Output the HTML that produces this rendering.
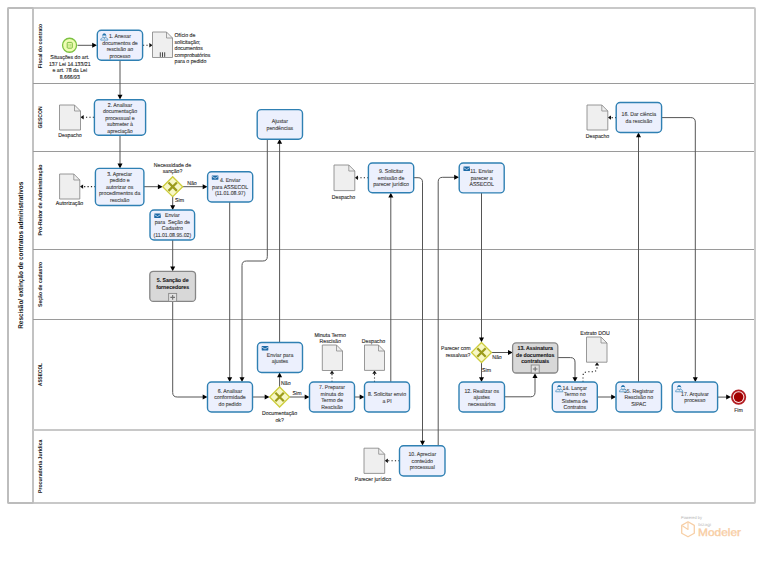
<!DOCTYPE html>
<html><head><meta charset="utf-8"><style>
html,body{margin:0;padding:0;background:#fff;width:768px;height:576px;overflow:hidden}
svg{display:block;font-family:"Liberation Sans",sans-serif;text-rendering:geometricPrecision}
text{font-family:"Liberation Sans",sans-serif}
</style></head><body>
<svg width="768" height="576" viewBox="0 0 768 576" font-family="Liberation Sans, sans-serif"><rect x="8" y="8" width="747" height="495" rx="0.8" fill="#fff" stroke="#c8c8c8" stroke-width="1.9"/>
<rect x="8" y="8" width="25" height="495" rx="0.8" fill="none" stroke="#bcbcbc" stroke-width="1.8"/>
<line x1="33" y1="83.5" x2="754" y2="83.5" stroke="#9a9a9a" stroke-width="1"/>
<line x1="33" y1="151.5" x2="754" y2="151.5" stroke="#9a9a9a" stroke-width="1"/>
<line x1="33" y1="249.5" x2="754" y2="249.5" stroke="#9a9a9a" stroke-width="1"/>
<line x1="33" y1="319.5" x2="754" y2="319.5" stroke="#9a9a9a" stroke-width="1"/>
<line x1="33" y1="430" x2="754" y2="430" stroke="#c8c8c8" stroke-width="1.9"/>
<text transform="translate(22.8,255.3) rotate(-90)" text-anchor="middle" font-weight="bold" font-size="6.9" textLength="147" lengthAdjust="spacingAndGlyphs" fill="#111">Rescisão/ extinção de contratos administrativos</text>
<text transform="translate(41.9,46) rotate(-90)" text-anchor="middle" font-weight="bold" font-size="5.5" textLength="44.3" lengthAdjust="spacingAndGlyphs" fill="#111">Fiscal do contrato</text>
<text transform="translate(41.9,117.4) rotate(-90)" text-anchor="middle" font-weight="bold" font-size="5.5" textLength="22.2" lengthAdjust="spacingAndGlyphs" fill="#111">GESCON</text>
<text transform="translate(41.9,200) rotate(-90)" text-anchor="middle" font-weight="bold" font-size="5.5" textLength="71.1" lengthAdjust="spacingAndGlyphs" fill="#111">Pró-Reitor de Administração</text>
<text transform="translate(41.9,284.4) rotate(-90)" text-anchor="middle" font-weight="bold" font-size="5.5" textLength="45.3" lengthAdjust="spacingAndGlyphs" fill="#111">Seção de cadastro</text>
<text transform="translate(41.9,374.5) rotate(-90)" text-anchor="middle" font-weight="bold" font-size="5.5" textLength="23" lengthAdjust="spacingAndGlyphs" fill="#111">ASSECOL</text>
<text transform="translate(41.9,466.3) rotate(-90)" text-anchor="middle" font-weight="bold" font-size="5.5" textLength="53.5" lengthAdjust="spacingAndGlyphs" fill="#111">Procuradoria Jurídica</text>
<path d="M77.5 45.3L94 45.3" fill="none" stroke="#555555" stroke-width="1.0"/>
<polygon points="97,45.3 92.2,42.8 92.2,47.8" fill="#000"/>
<path d="M143 45.3L149.5 45.3" fill="none" stroke="#222" stroke-width="1.1" stroke-dasharray="1.2 2.2"/>
<polygon points="152.5,45.3 149.3,43.099999999999994 149.3,47.5" fill="#111"/>
<path d="M120 60.5L120 96.5" fill="none" stroke="#555555" stroke-width="1.0"/>
<polygon points="120,99.5 117.5,94.7 122.5,94.7" fill="#000"/>
<path d="M94 117.3L83.5 117.3" fill="none" stroke="#222" stroke-width="1.1" stroke-dasharray="1.2 2.2"/>
<polygon points="80.5,117.3 83.7,115.1 83.7,119.5" fill="#111"/>
<path d="M120 135.2L120 165.4" fill="none" stroke="#555555" stroke-width="1.0"/>
<polygon points="120,168.4 117.5,163.6 122.5,163.6" fill="#000"/>
<path d="M95.5 186.6L82.9 186.6" fill="none" stroke="#222" stroke-width="1.1" stroke-dasharray="1.2 2.2"/>
<polygon points="79.9,186.6 83.10000000000001,184.4 83.10000000000001,188.79999999999998" fill="#111"/>
<path d="M144 186.7L159.7 186.7" fill="none" stroke="#555555" stroke-width="1.0"/>
<polygon points="162.7,186.7 157.89999999999998,184.2 157.89999999999998,189.2" fill="#000"/>
<path d="M182.5 186.7L204.5 186.7" fill="none" stroke="#555555" stroke-width="1.0"/>
<polygon points="207.5,186.7 202.7,184.2 202.7,189.2" fill="#000"/>
<path d="M172.7 196.7L172.7 207" fill="none" stroke="#555555" stroke-width="1.0"/>
<polygon points="172.7,210 170.2,205.2 175.2,205.2" fill="#000"/>
<path d="M172.7 240.1L172.7 268.3" fill="none" stroke="#555555" stroke-width="1.0"/>
<polygon points="172.7,271.3 170.2,266.5 175.2,266.5" fill="#000"/>
<path d="M172.7 301.4L172.70 392.50Q172.7 397 177.20 397.00L204.5 397" fill="none" stroke="#555555" stroke-width="1.0"/>
<polygon points="207.5,397 202.7,394.5 202.7,399.5" fill="#000"/>
<path d="M229.7 202L229.7 379" fill="none" stroke="#555555" stroke-width="1.0"/>
<polygon points="229.7,382 227.2,377.2 232.2,377.2" fill="#000"/>
<path d="M267.3 139L267.30 256.50Q267.3 261 262.80 261.00L246.50 261.00Q242 261 242.00 265.50L242 379" fill="none" stroke="#555555" stroke-width="1.0"/>
<polygon points="242,382 239.5,377.2 244.5,377.2" fill="#000"/>
<path d="M279.6 342.5L279.6 142" fill="none" stroke="#555555" stroke-width="1.0"/>
<polygon points="279.6,139 277.1,143.8 282.1,143.8" fill="#000"/>
<path d="M252.5 397L266.5 397" fill="none" stroke="#555555" stroke-width="1.0"/>
<polygon points="269.5,397 264.7,394.5 264.7,399.5" fill="#000"/>
<path d="M279.6 387L279.6 375.5" fill="none" stroke="#555555" stroke-width="1.0"/>
<polygon points="279.6,372.5 277.1,377.3 282.1,377.3" fill="#000"/>
<path d="M289.5 397L306.5 397" fill="none" stroke="#555555" stroke-width="1.0"/>
<polygon points="309.5,397 304.7,394.5 304.7,399.5" fill="#000"/>
<path d="M332 382L332 373.5" fill="none" stroke="#222" stroke-width="1.1" stroke-dasharray="1.2 2.2"/>
<polygon points="332,370.5 329.8,373.7 334.2,373.7" fill="#111"/>
<path d="M354.5 397L361.5 397" fill="none" stroke="#555555" stroke-width="1.0"/>
<polygon points="364.5,397 359.7,394.5 359.7,399.5" fill="#000"/>
<path d="M374.5 382L374.5 373.5" fill="none" stroke="#222" stroke-width="1.1" stroke-dasharray="1.2 2.2"/>
<polygon points="374.5,370.5 372.3,373.7 376.7,373.7" fill="#111"/>
<path d="M390.8 382L390.8 195.8" fill="none" stroke="#555555" stroke-width="1.0"/>
<polygon points="390.8,192.8 388.3,197.60000000000002 393.3,197.60000000000002" fill="#000"/>
<path d="M368.4 177.7L357.8 177.7" fill="none" stroke="#222" stroke-width="1.1" stroke-dasharray="1.2 2.2"/>
<polygon points="354.8,177.7 358.0,175.5 358.0,179.89999999999998" fill="#111"/>
<path d="M413.7 177.7L418.10 177.70Q422.5 177.7 422.50 182.20L422.5 442.5" fill="none" stroke="#555555" stroke-width="1.0"/>
<polygon points="422.5,445.5 420.0,440.7 425.0,440.7" fill="#000"/>
<path d="M399.5 460.7L387.7 460.7" fill="none" stroke="#222" stroke-width="1.1" stroke-dasharray="1.2 2.2"/>
<polygon points="384.7,460.7 387.9,458.5 387.9,462.9" fill="#111"/>
<path d="M438.2 445.5L438.20 181.80Q438.2 177.3 442.70 177.30L456 177.3" fill="none" stroke="#555555" stroke-width="1.0"/>
<polygon points="459,177.3 454.2,174.8 454.2,179.8" fill="#000"/>
<path d="M481.5 192.9L481.5 339.3" fill="none" stroke="#555555" stroke-width="1.0"/>
<polygon points="481.5,342.3 479.0,337.5 484.0,337.5" fill="#000"/>
<path d="M491.5 352.5L509.79999999999995 352.5" fill="none" stroke="#555555" stroke-width="1.0"/>
<polygon points="512.8,352.5 507.99999999999994,350.0 507.99999999999994,355.0" fill="#000"/>
<path d="M481.5 362.5L481.5 379" fill="none" stroke="#555555" stroke-width="1.0"/>
<polygon points="481.5,382 479.0,377.2 484.0,377.2" fill="#000"/>
<path d="M504.5 396.8L530.50 396.80Q535 396.8 535.00 392.30L535 376.2" fill="none" stroke="#555555" stroke-width="1.0"/>
<polygon points="535,373.2 532.5,378.0 537.5,378.0" fill="#000"/>
<path d="M557.8 357.6L570.50 357.60Q575 357.6 575.00 362.10L575 379" fill="none" stroke="#555555" stroke-width="1.0"/>
<polygon points="575,382 572.5,377.2 577.5,377.2" fill="#000"/>
<path d="M583 382L583.00 376.30Q583 371.8 587.50 371.80L592.50 371.80Q597 371.8 597.00 367.30L597 365.2" fill="none" stroke="#222" stroke-width="1.1" stroke-dasharray="1.2 2.2"/>
<polygon points="597,362.2 594.8,365.4 599.2,365.4" fill="#111"/>
<path d="M597.3 397L613 397" fill="none" stroke="#555555" stroke-width="1.0"/>
<polygon points="616,397 611.2,394.5 611.2,399.5" fill="#000"/>
<path d="M638.5 382L638.5 135.5" fill="none" stroke="#555555" stroke-width="1.0"/>
<polygon points="638.5,132.5 636.0,137.3 641.0,137.3" fill="#000"/>
<path d="M616.2 117.6L610.8 117.6" fill="none" stroke="#222" stroke-width="1.1" stroke-dasharray="1.2 2.2"/>
<polygon points="607.8,117.6 611.0,115.39999999999999 611.0,119.8" fill="#111"/>
<path d="M661.6 117.6L690.80 117.60Q695.3 117.6 695.30 122.10L695.3 379" fill="none" stroke="#555555" stroke-width="1.0"/>
<polygon points="695.3,382 692.8,377.2 697.8,377.2" fill="#000"/>
<path d="M717.6 397.1L728 397.1" fill="none" stroke="#555555" stroke-width="1.0"/>
<polygon points="731,397.1 726.2,394.6 726.2,399.6" fill="#000"/>
<circle cx="69.55" cy="45.25" r="7" fill="#effcb4" stroke="#7cc242" stroke-width="1.3"/>
<rect x="67.2" y="42.4" width="5.1" height="5.8" rx="0.8" fill="#e8f8a8" stroke="#79bc40" stroke-width="0.95"/>
<path d="M69 44V46.6M70.6 44V46.6" stroke="#9ccf6a" stroke-width="0.6"/>
<text x="69.8" y="59.15" text-anchor="middle" fill="#1e1e1e" stroke="#1e1e1e" stroke-width="0.1" font-size="5.62" textLength="39.02" lengthAdjust="spacingAndGlyphs">Situações do art.</text>
<text x="69.8" y="65.65" text-anchor="middle" fill="#1e1e1e" stroke="#1e1e1e" stroke-width="0.1" font-size="5.62" textLength="41.64" lengthAdjust="spacingAndGlyphs">137 Lei 14.133/21</text>
<text x="69.8" y="72.15" text-anchor="middle" fill="#1e1e1e" stroke="#1e1e1e" stroke-width="0.1" font-size="5.62" textLength="34.69" lengthAdjust="spacingAndGlyphs">e art. 78 da Lei</text>
<text x="69.8" y="78.65" text-anchor="middle" fill="#1e1e1e" stroke="#1e1e1e" stroke-width="0.1" font-size="5.62" textLength="20.24" lengthAdjust="spacingAndGlyphs">8.666/93</text>
<rect x="97.3" y="30.3" width="45.3" height="29.999999999999996" rx="4" fill="#ecf0fd" stroke="#2f80b3" stroke-width="1.4"/>
<text x="119.94999999999999" y="38.15" text-anchor="middle" fill="#3c3c3c" stroke="#3c3c3c" stroke-width="0.1" font-size="5.62" textLength="21.97" lengthAdjust="spacingAndGlyphs">1. Anexar</text>
<text x="119.94999999999999" y="44.65" text-anchor="middle" fill="#3c3c3c" stroke="#3c3c3c" stroke-width="0.1" font-size="5.62" textLength="35.56" lengthAdjust="spacingAndGlyphs">documentos de</text>
<text x="119.94999999999999" y="51.15" text-anchor="middle" fill="#3c3c3c" stroke="#3c3c3c" stroke-width="0.1" font-size="5.62" textLength="26.59" lengthAdjust="spacingAndGlyphs">rescisão ao</text>
<text x="119.94999999999999" y="57.65" text-anchor="middle" fill="#3c3c3c" stroke="#3c3c3c" stroke-width="0.1" font-size="5.62" textLength="21.10" lengthAdjust="spacingAndGlyphs">processo</text>
<g transform="translate(100.3,33.2)"><path d="M0.4 6.9C0.4 5.1 1.6 4.3 4 4.3S7.6 5.1 7.6 6.9Z" fill="#e2ebf7" stroke="#4b8fbf" stroke-width="0.75"/><circle cx="4" cy="2.6" r="1.75" fill="#f2f6fc" stroke="#5d9bc7" stroke-width="0.6"/><path d="M2.2 2.2C2.2 0.8 3 0.3 4 0.3S5.8 0.8 5.8 2.2Z" fill="#2474ad"/><path d="M3.4 4.5L4 6.2L4.6 4.5" fill="#4a7fa6"/></g>
<path d="M152.5 32H166.5L172.5 38V57.5H152.5Z" fill="#efefef" stroke="#8c8c8c" stroke-width="0.9"/>
<path d="M166.5 32V38H172.5" fill="none" stroke="#8c8c8c" stroke-width="0.8"/>
<path d="M160.3 52.3V56.9M162.5 52.3V56.9M164.7 52.3V56.9" stroke="#444" stroke-width="1"/>
<text x="174.5" y="37.15" text-anchor="start" fill="#1e1e1e" stroke="#1e1e1e" stroke-width="0.1" font-size="5.62" textLength="20.81" lengthAdjust="spacingAndGlyphs">Ofício de</text>
<text x="174.5" y="43.65" text-anchor="start" fill="#1e1e1e" stroke="#1e1e1e" stroke-width="0.1" font-size="5.62" textLength="25.72" lengthAdjust="spacingAndGlyphs">solicitação;</text>
<text x="174.5" y="50.15" text-anchor="start" fill="#1e1e1e" stroke="#1e1e1e" stroke-width="0.1" font-size="5.62" textLength="28.33" lengthAdjust="spacingAndGlyphs">documentos</text>
<text x="174.5" y="56.65" text-anchor="start" fill="#1e1e1e" stroke="#1e1e1e" stroke-width="0.1" font-size="5.62" textLength="35.84" lengthAdjust="spacingAndGlyphs">comprobatórios</text>
<text x="174.5" y="63.15" text-anchor="start" fill="#1e1e1e" stroke="#1e1e1e" stroke-width="0.1" font-size="5.62" textLength="31.81" lengthAdjust="spacingAndGlyphs">para o pedido</text>
<rect x="94.4" y="99.7" width="51.19999999999999" height="35.499999999999986" rx="4" fill="#ecf0fd" stroke="#2f80b3" stroke-width="1.4"/>
<text x="120.0" y="106.65" text-anchor="middle" fill="#3c3c3c" stroke="#3c3c3c" stroke-width="0.1" font-size="5.62" textLength="24.28" lengthAdjust="spacingAndGlyphs">2. Analisar</text>
<text x="120.0" y="113.15" text-anchor="middle" fill="#3c3c3c" stroke="#3c3c3c" stroke-width="0.1" font-size="5.62" textLength="34.11" lengthAdjust="spacingAndGlyphs">documentação</text>
<text x="120.0" y="119.65" text-anchor="middle" fill="#3c3c3c" stroke="#3c3c3c" stroke-width="0.1" font-size="5.62" textLength="29.48" lengthAdjust="spacingAndGlyphs">processual e</text>
<text x="120.0" y="126.15" text-anchor="middle" fill="#3c3c3c" stroke="#3c3c3c" stroke-width="0.1" font-size="5.62" textLength="26.01" lengthAdjust="spacingAndGlyphs">submeter à</text>
<text x="120.0" y="132.65" text-anchor="middle" fill="#3c3c3c" stroke="#3c3c3c" stroke-width="0.1" font-size="5.62" textLength="25.44" lengthAdjust="spacingAndGlyphs">apreciação</text>
<path d="M59.5 105H74.5L80.5 111V130H59.5Z" fill="#efefef" stroke="#8c8c8c" stroke-width="0.9"/>
<path d="M74.5 105V111H80.5" fill="none" stroke="#8c8c8c" stroke-width="0.8"/>
<text x="70" y="136.5" text-anchor="middle" fill="#1e1e1e" stroke="#1e1e1e" stroke-width="0.1" font-size="5.62" textLength="23.42" lengthAdjust="spacingAndGlyphs">Despacho</text>
<rect x="95.4" y="168.4" width="48.5" height="37.099999999999994" rx="4" fill="#ecf0fd" stroke="#2f80b3" stroke-width="1.4"/>
<text x="119.65" y="175.65" text-anchor="middle" fill="#3c3c3c" stroke="#3c3c3c" stroke-width="0.1" font-size="5.62" textLength="24.86" lengthAdjust="spacingAndGlyphs">3. Apreciar</text>
<text x="119.65" y="182.15" text-anchor="middle" fill="#3c3c3c" stroke="#3c3c3c" stroke-width="0.1" font-size="5.62" textLength="19.95" lengthAdjust="spacingAndGlyphs">pedido e</text>
<text x="119.65" y="188.65" text-anchor="middle" fill="#3c3c3c" stroke="#3c3c3c" stroke-width="0.1" font-size="5.62" textLength="27.17" lengthAdjust="spacingAndGlyphs">autorizar os</text>
<text x="119.65" y="195.15" text-anchor="middle" fill="#3c3c3c" stroke="#3c3c3c" stroke-width="0.1" font-size="5.62" textLength="41.34" lengthAdjust="spacingAndGlyphs">procedimentos da</text>
<text x="119.65" y="201.65" text-anchor="middle" fill="#3c3c3c" stroke="#3c3c3c" stroke-width="0.1" font-size="5.62" textLength="19.36" lengthAdjust="spacingAndGlyphs">rescisão</text>
<path d="M59.6 174H73.8L79.8 180V199H59.6Z" fill="#efefef" stroke="#8c8c8c" stroke-width="0.9"/>
<path d="M73.8 174V180H79.8" fill="none" stroke="#8c8c8c" stroke-width="0.8"/>
<text x="69.5" y="204.7" text-anchor="middle" fill="#1e1e1e" stroke="#1e1e1e" stroke-width="0.1" font-size="5.62" textLength="27.46" lengthAdjust="spacingAndGlyphs">Autorização</text>
<path d="M172.7 176.7L182.7 186.7L172.7 196.7L162.7 186.7Z" fill="#f7f7c6" stroke="#cdcd3c" stroke-width="1.3"/>
<path d="M168.5 182.5L176.89999999999998 190.89999999999998M176.89999999999998 182.5L168.5 190.89999999999998" stroke="#9b9b1c" stroke-width="2.3"/>
<text x="172.5" y="166.85" text-anchor="middle" fill="#1e1e1e" stroke="#1e1e1e" stroke-width="0.1" font-size="5.62" textLength="37.29" lengthAdjust="spacingAndGlyphs">Necessidade de</text>
<text x="172.5" y="173.35" text-anchor="middle" fill="#1e1e1e" stroke="#1e1e1e" stroke-width="0.1" font-size="5.62" textLength="19.66" lengthAdjust="spacingAndGlyphs">sanção?</text>
<text x="192" y="185" text-anchor="middle" fill="#1e1e1e" stroke="#1e1e1e" stroke-width="0.1" font-size="5.62" textLength="9.54" lengthAdjust="spacingAndGlyphs">Não</text>
<text x="179.5" y="201.5" text-anchor="middle" fill="#1e1e1e" stroke="#1e1e1e" stroke-width="0.1" font-size="5.62" textLength="8.96" lengthAdjust="spacingAndGlyphs">Sim</text>
<rect x="207.6" y="171.8" width="45.099999999999994" height="30.19999999999999" rx="4" fill="#ecf0fd" stroke="#2f80b3" stroke-width="1.4"/>
<text x="230.14999999999998" y="182.15" text-anchor="middle" fill="#3c3c3c" stroke="#3c3c3c" stroke-width="0.1" font-size="5.62" textLength="20.52" lengthAdjust="spacingAndGlyphs">4. Enviar</text>
<text x="230.14999999999998" y="188.65" text-anchor="middle" fill="#3c3c3c" stroke="#3c3c3c" stroke-width="0.1" font-size="5.62" textLength="36.13" lengthAdjust="spacingAndGlyphs">para ASSECOL</text>
<text x="230.14999999999998" y="195.15" text-anchor="middle" fill="#3c3c3c" stroke="#3c3c3c" stroke-width="0.1" font-size="5.62" textLength="30.55" lengthAdjust="spacingAndGlyphs">(11.01.08.97)</text>
<g transform="translate(211.79999999999998,175.4)"><rect x="0" y="0" width="6.6" height="4.3" rx="0.4" fill="#1d6aa6"/><path d="M0.2 1.0L3.3 2.9L6.4 1.0" stroke="#e6eefa" stroke-width="0.7" fill="none"/></g>
<rect x="150" y="210" width="44.599999999999994" height="30" rx="4" fill="#ecf0fd" stroke="#2f80b3" stroke-width="1.4"/>
<text x="172.3" y="217.15" text-anchor="middle" fill="#3c3c3c" stroke="#3c3c3c" stroke-width="0.1" font-size="5.62" textLength="14.74" lengthAdjust="spacingAndGlyphs">Enviar</text>
<text x="172.3" y="223.65" text-anchor="middle" fill="#3c3c3c" stroke="#3c3c3c" stroke-width="0.1" font-size="5.62" textLength="35.27" lengthAdjust="spacingAndGlyphs">para  Seção de</text>
<text x="172.3" y="230.15" text-anchor="middle" fill="#3c3c3c" stroke="#3c3c3c" stroke-width="0.1" font-size="5.62" textLength="21.10" lengthAdjust="spacingAndGlyphs">Cadastro</text>
<text x="172.3" y="236.65" text-anchor="middle" fill="#3c3c3c" stroke="#3c3c3c" stroke-width="0.1" font-size="5.62" textLength="37.78" lengthAdjust="spacingAndGlyphs">(11.01.08.95.02)</text>
<g transform="translate(154.2,213.6)"><rect x="0" y="0" width="6.6" height="4.3" rx="0.4" fill="#1d6aa6"/><path d="M0.2 1.0L3.3 2.9L6.4 1.0" stroke="#e6eefa" stroke-width="0.7" fill="none"/></g>
<rect x="149.8" y="271.3" width="45.69999999999999" height="30.099999999999966" rx="3.5" fill="#d8d8d8" stroke="#868686" stroke-width="1.3"/>
<text x="172.65" y="282.45" text-anchor="middle" font-weight="bold" fill="#1a1a1a" stroke="#1a1a1a" stroke-width="0.1" font-size="5.62" textLength="31.79" lengthAdjust="spacingAndGlyphs">5. Sanção de</text>
<text x="172.65" y="288.95" text-anchor="middle" font-weight="bold" fill="#1a1a1a" stroke="#1a1a1a" stroke-width="0.1" font-size="5.62" textLength="32.95" lengthAdjust="spacingAndGlyphs">fornecedores</text>
<rect x="168.65" y="293.4" width="8" height="8" fill="#e2e2e2" stroke="#888" stroke-width="0.9"/>
<path d="M172.65 295.09999999999997V299.7M170.35 297.4H174.95000000000002" stroke="#707070" stroke-width="1.1"/>
<rect x="257.2" y="109.6" width="45.30000000000001" height="29.700000000000017" rx="4" fill="#ecf0fd" stroke="#2f80b3" stroke-width="1.4"/>
<text x="279.85" y="123.15" text-anchor="middle" fill="#3c3c3c" stroke="#3c3c3c" stroke-width="0.1" font-size="5.62" textLength="16.18" lengthAdjust="spacingAndGlyphs">Ajustar</text>
<text x="279.85" y="129.65" text-anchor="middle" fill="#3c3c3c" stroke="#3c3c3c" stroke-width="0.1" font-size="5.62" textLength="26.60" lengthAdjust="spacingAndGlyphs">pendências</text>
<rect x="207.5" y="382" width="45.0" height="30" rx="4" fill="#ecf0fd" stroke="#2f80b3" stroke-width="1.4"/>
<text x="230.0" y="392.65" text-anchor="middle" fill="#3c3c3c" stroke="#3c3c3c" stroke-width="0.1" font-size="5.62" textLength="24.28" lengthAdjust="spacingAndGlyphs">6. Analisar</text>
<text x="230.0" y="399.15" text-anchor="middle" fill="#3c3c3c" stroke="#3c3c3c" stroke-width="0.1" font-size="5.62" textLength="31.51" lengthAdjust="spacingAndGlyphs">conformidade</text>
<text x="230.0" y="405.65" text-anchor="middle" fill="#3c3c3c" stroke="#3c3c3c" stroke-width="0.1" font-size="5.62" textLength="22.84" lengthAdjust="spacingAndGlyphs">do pedido</text>
<path d="M279.6 387L289.6 397L279.6 407L269.6 397Z" fill="#f7f7c6" stroke="#cdcd3c" stroke-width="1.3"/>
<path d="M275.40000000000003 392.8L283.8 401.2M283.8 392.8L275.40000000000003 401.2" stroke="#9b9b1c" stroke-width="2.3"/>
<text x="279.6" y="415.15" text-anchor="middle" fill="#1e1e1e" stroke="#1e1e1e" stroke-width="0.1" font-size="5.62" textLength="34.98" lengthAdjust="spacingAndGlyphs">Documentação</text>
<text x="279.6" y="421.65" text-anchor="middle" fill="#1e1e1e" stroke="#1e1e1e" stroke-width="0.1" font-size="5.62" textLength="8.38" lengthAdjust="spacingAndGlyphs">ok?</text>
<text x="285.8" y="384.5" text-anchor="middle" fill="#1e1e1e" stroke="#1e1e1e" stroke-width="0.1" font-size="5.62" textLength="9.54" lengthAdjust="spacingAndGlyphs">Não</text>
<text x="297" y="395.3" text-anchor="middle" fill="#1e1e1e" stroke="#1e1e1e" stroke-width="0.1" font-size="5.62" textLength="8.96" lengthAdjust="spacingAndGlyphs">Sim</text>
<rect x="257.5" y="342.5" width="45.0" height="30.0" rx="4" fill="#ecf0fd" stroke="#2f80b3" stroke-width="1.4"/>
<text x="280.0" y="356.65" text-anchor="middle" fill="#3c3c3c" stroke="#3c3c3c" stroke-width="0.1" font-size="5.62" textLength="26.59" lengthAdjust="spacingAndGlyphs">Enviar para</text>
<text x="280.0" y="363.15" text-anchor="middle" fill="#3c3c3c" stroke="#3c3c3c" stroke-width="0.1" font-size="5.62" textLength="16.48" lengthAdjust="spacingAndGlyphs">ajustes</text>
<g transform="translate(261.7,346.1)"><rect x="0" y="0" width="6.6" height="4.3" rx="0.4" fill="#1d6aa6"/><path d="M0.2 1.0L3.3 2.9L6.4 1.0" stroke="#e6eefa" stroke-width="0.7" fill="none"/></g>
<rect x="309.5" y="382" width="45.0" height="30" rx="4" fill="#ecf0fd" stroke="#2f80b3" stroke-width="1.4"/>
<text x="332.0" y="389.15" text-anchor="middle" fill="#3c3c3c" stroke="#3c3c3c" stroke-width="0.1" font-size="5.62" textLength="26.01" lengthAdjust="spacingAndGlyphs">7. Preparar</text>
<text x="332.0" y="395.65" text-anchor="middle" fill="#3c3c3c" stroke="#3c3c3c" stroke-width="0.1" font-size="5.62" textLength="22.84" lengthAdjust="spacingAndGlyphs">minuta do</text>
<text x="332.0" y="402.15" text-anchor="middle" fill="#3c3c3c" stroke="#3c3c3c" stroke-width="0.1" font-size="5.62" textLength="21.68" lengthAdjust="spacingAndGlyphs">Termo de</text>
<text x="332.0" y="408.65" text-anchor="middle" fill="#3c3c3c" stroke="#3c3c3c" stroke-width="0.1" font-size="5.62" textLength="21.39" lengthAdjust="spacingAndGlyphs">Rescisão</text>
<path d="M322.3 345H336.5L342.5 351V370.5H322.3Z" fill="#efefef" stroke="#8c8c8c" stroke-width="0.9"/>
<path d="M336.5 345V351H342.5" fill="none" stroke="#8c8c8c" stroke-width="0.8"/>
<text x="330.2" y="336.65" text-anchor="middle" fill="#1e1e1e" stroke="#1e1e1e" stroke-width="0.1" font-size="5.62" textLength="31.41" lengthAdjust="spacingAndGlyphs">Minuta Termo</text>
<text x="330.2" y="343.15" text-anchor="middle" fill="#1e1e1e" stroke="#1e1e1e" stroke-width="0.1" font-size="5.62" textLength="21.39" lengthAdjust="spacingAndGlyphs">Rescisão</text>
<rect x="364.5" y="382" width="45.0" height="30" rx="4" fill="#ecf0fd" stroke="#2f80b3" stroke-width="1.4"/>
<text x="387.0" y="396.15" text-anchor="middle" fill="#3c3c3c" stroke="#3c3c3c" stroke-width="0.1" font-size="5.62" textLength="38.15" lengthAdjust="spacingAndGlyphs">8. Solicitar envio</text>
<text x="387.0" y="402.65" text-anchor="middle" fill="#3c3c3c" stroke="#3c3c3c" stroke-width="0.1" font-size="5.62" textLength="9.25" lengthAdjust="spacingAndGlyphs">a PI</text>
<path d="M364.5 345H378.5L384.5 351V370.4H364.5Z" fill="#efefef" stroke="#8c8c8c" stroke-width="0.9"/>
<path d="M378.5 345V351H384.5" fill="none" stroke="#8c8c8c" stroke-width="0.8"/>
<text x="373.5" y="343" text-anchor="middle" fill="#1e1e1e" stroke="#1e1e1e" stroke-width="0.1" font-size="5.62" textLength="23.42" lengthAdjust="spacingAndGlyphs">Despacho</text>
<rect x="368.4" y="163" width="45.30000000000001" height="29.80000000000001" rx="4" fill="#ecf0fd" stroke="#2f80b3" stroke-width="1.4"/>
<text x="391.04999999999995" y="173.15" text-anchor="middle" fill="#3c3c3c" stroke="#3c3c3c" stroke-width="0.1" font-size="5.62" textLength="24.28" lengthAdjust="spacingAndGlyphs">9. Solicitar</text>
<text x="391.04999999999995" y="179.65" text-anchor="middle" fill="#3c3c3c" stroke="#3c3c3c" stroke-width="0.1" font-size="5.62" textLength="26.59" lengthAdjust="spacingAndGlyphs">emissão de</text>
<text x="391.04999999999995" y="186.15" text-anchor="middle" fill="#3c3c3c" stroke="#3c3c3c" stroke-width="0.1" font-size="5.62" textLength="35.84" lengthAdjust="spacingAndGlyphs">parecer jurídico</text>
<path d="M334 165H348.8L354.8 171V190.6H334Z" fill="#efefef" stroke="#8c8c8c" stroke-width="0.9"/>
<path d="M348.8 165V171H354.8" fill="none" stroke="#8c8c8c" stroke-width="0.8"/>
<text x="343.5" y="199.3" text-anchor="middle" fill="#1e1e1e" stroke="#1e1e1e" stroke-width="0.1" font-size="5.62" textLength="23.42" lengthAdjust="spacingAndGlyphs">Despacho</text>
<rect x="399.5" y="445.7" width="45.5" height="30.30000000000001" rx="4" fill="#ecf0fd" stroke="#2f80b3" stroke-width="1.4"/>
<text x="422.25" y="456.15" text-anchor="middle" fill="#3c3c3c" stroke="#3c3c3c" stroke-width="0.1" font-size="5.62" textLength="27.75" lengthAdjust="spacingAndGlyphs">10. Apreciar</text>
<text x="422.25" y="462.65" text-anchor="middle" fill="#3c3c3c" stroke="#3c3c3c" stroke-width="0.1" font-size="5.62" textLength="21.40" lengthAdjust="spacingAndGlyphs">conteúdo</text>
<text x="422.25" y="469.15" text-anchor="middle" fill="#3c3c3c" stroke="#3c3c3c" stroke-width="0.1" font-size="5.62" textLength="25.15" lengthAdjust="spacingAndGlyphs">processual</text>
<path d="M364 448.2H378.7L384.7 454.2V473.4H364Z" fill="#efefef" stroke="#8c8c8c" stroke-width="0.9"/>
<path d="M378.7 448.2V454.2H384.7" fill="none" stroke="#8c8c8c" stroke-width="0.8"/>
<text x="373" y="481" text-anchor="middle" fill="#1e1e1e" stroke="#1e1e1e" stroke-width="0.1" font-size="5.62" textLength="36.42" lengthAdjust="spacingAndGlyphs">Parecer jurídico</text>
<rect x="459.2" y="163" width="45.0" height="29.900000000000006" rx="4" fill="#ecf0fd" stroke="#2f80b3" stroke-width="1.4"/>
<text x="481.7" y="173.15" text-anchor="middle" fill="#3c3c3c" stroke="#3c3c3c" stroke-width="0.1" font-size="5.62" textLength="23.03" lengthAdjust="spacingAndGlyphs">11. Enviar</text>
<text x="481.7" y="179.65" text-anchor="middle" fill="#3c3c3c" stroke="#3c3c3c" stroke-width="0.1" font-size="5.62" textLength="21.97" lengthAdjust="spacingAndGlyphs">parecer a</text>
<text x="481.7" y="186.15" text-anchor="middle" fill="#3c3c3c" stroke="#3c3c3c" stroke-width="0.1" font-size="5.62" textLength="24.57" lengthAdjust="spacingAndGlyphs">ASSECOL</text>
<g transform="translate(463.4,166.6)"><rect x="0" y="0" width="6.6" height="4.3" rx="0.4" fill="#1d6aa6"/><path d="M0.2 1.0L3.3 2.9L6.4 1.0" stroke="#e6eefa" stroke-width="0.7" fill="none"/></g>
<path d="M481.5 342.5L491.5 352.5L481.5 362.5L471.5 352.5Z" fill="#f7f7c6" stroke="#cdcd3c" stroke-width="1.3"/>
<path d="M477.3 348.3L485.7 356.7M485.7 348.3L477.3 356.7" stroke="#9b9b1c" stroke-width="2.3"/>
<text x="470.5" y="350.15" text-anchor="end" fill="#1e1e1e" stroke="#1e1e1e" stroke-width="0.1" font-size="5.62" textLength="29.48" lengthAdjust="spacingAndGlyphs">Parecer com</text>
<text x="470.5" y="356.65" text-anchor="end" fill="#1e1e1e" stroke="#1e1e1e" stroke-width="0.1" font-size="5.62" textLength="24.86" lengthAdjust="spacingAndGlyphs">ressalvas?</text>
<text x="497" y="359" text-anchor="middle" fill="#1e1e1e" stroke="#1e1e1e" stroke-width="0.1" font-size="5.62" textLength="9.54" lengthAdjust="spacingAndGlyphs">Não</text>
<text x="486.5" y="372" text-anchor="middle" fill="#1e1e1e" stroke="#1e1e1e" stroke-width="0.1" font-size="5.62" textLength="8.96" lengthAdjust="spacingAndGlyphs">Sim</text>
<rect x="512.6" y="342.9" width="45.19999999999993" height="30.100000000000023" rx="3.5" fill="#d8d8d8" stroke="#868686" stroke-width="1.3"/>
<text x="535.2" y="350.15" text-anchor="middle" font-weight="bold" fill="#1a1a1a" stroke="#1a1a1a" stroke-width="0.1" font-size="5.62" textLength="35.36" lengthAdjust="spacingAndGlyphs">13. Assinatura</text>
<text x="535.2" y="356.65" text-anchor="middle" font-weight="bold" fill="#1a1a1a" stroke="#1a1a1a" stroke-width="0.1" font-size="5.62" textLength="38.43" lengthAdjust="spacingAndGlyphs">de documentos</text>
<text x="535.2" y="363.15" text-anchor="middle" font-weight="bold" fill="#1a1a1a" stroke="#1a1a1a" stroke-width="0.1" font-size="5.62" textLength="28.03" lengthAdjust="spacingAndGlyphs">contratuais</text>
<rect x="531.2" y="365" width="8" height="8" fill="#e2e2e2" stroke="#888" stroke-width="0.9"/>
<path d="M535.2 366.7V371.3M532.9000000000001 369H537.5" stroke="#707070" stroke-width="1.1"/>
<rect x="459" y="382" width="45.5" height="30" rx="4" fill="#ecf0fd" stroke="#2f80b3" stroke-width="1.4"/>
<text x="481.75" y="392.65" text-anchor="middle" fill="#3c3c3c" stroke="#3c3c3c" stroke-width="0.1" font-size="5.62" textLength="34.68" lengthAdjust="spacingAndGlyphs">12. Realizar os</text>
<text x="481.75" y="399.15" text-anchor="middle" fill="#3c3c3c" stroke="#3c3c3c" stroke-width="0.1" font-size="5.62" textLength="16.48" lengthAdjust="spacingAndGlyphs">ajustes</text>
<text x="481.75" y="405.65" text-anchor="middle" fill="#3c3c3c" stroke="#3c3c3c" stroke-width="0.1" font-size="5.62" textLength="27.75" lengthAdjust="spacingAndGlyphs">necessários</text>
<rect x="552.3" y="382" width="45.0" height="30" rx="4" fill="#ecf0fd" stroke="#2f80b3" stroke-width="1.4"/>
<text x="574.8" y="389.55" text-anchor="middle" fill="#3c3c3c" stroke="#3c3c3c" stroke-width="0.1" font-size="5.62" textLength="24.57" lengthAdjust="spacingAndGlyphs">14. Lançar</text>
<text x="574.8" y="396.05" text-anchor="middle" fill="#3c3c3c" stroke="#3c3c3c" stroke-width="0.1" font-size="5.62" textLength="21.68" lengthAdjust="spacingAndGlyphs">Termo no</text>
<text x="574.8" y="402.55" text-anchor="middle" fill="#3c3c3c" stroke="#3c3c3c" stroke-width="0.1" font-size="5.62" textLength="26.01" lengthAdjust="spacingAndGlyphs">Sistema de</text>
<text x="574.8" y="409.05" text-anchor="middle" fill="#3c3c3c" stroke="#3c3c3c" stroke-width="0.1" font-size="5.62" textLength="22.54" lengthAdjust="spacingAndGlyphs">Contratos</text>
<g transform="translate(555.3,384.9)"><path d="M0.4 6.9C0.4 5.1 1.6 4.3 4 4.3S7.6 5.1 7.6 6.9Z" fill="#e2ebf7" stroke="#4b8fbf" stroke-width="0.75"/><circle cx="4" cy="2.6" r="1.75" fill="#f2f6fc" stroke="#5d9bc7" stroke-width="0.6"/><path d="M2.2 2.2C2.2 0.8 3 0.3 4 0.3S5.8 0.8 5.8 2.2Z" fill="#2474ad"/><path d="M3.4 4.5L4 6.2L4.6 4.5" fill="#4a7fa6"/></g>
<path d="M586.5 337H601L607 343V362.2H586.5Z" fill="#efefef" stroke="#8c8c8c" stroke-width="0.9"/>
<path d="M601 337V343H607" fill="none" stroke="#8c8c8c" stroke-width="0.8"/>
<text x="595" y="335" text-anchor="middle" fill="#1e1e1e" stroke="#1e1e1e" stroke-width="0.1" font-size="5.62" textLength="29.47" lengthAdjust="spacingAndGlyphs">Extrato DOU</text>
<rect x="616" y="382" width="45.5" height="30" rx="4" fill="#ecf0fd" stroke="#2f80b3" stroke-width="1.4"/>
<text x="638.75" y="392.65" text-anchor="middle" fill="#3c3c3c" stroke="#3c3c3c" stroke-width="0.1" font-size="5.62" textLength="29.77" lengthAdjust="spacingAndGlyphs">15. Registrar</text>
<text x="638.75" y="399.15" text-anchor="middle" fill="#3c3c3c" stroke="#3c3c3c" stroke-width="0.1" font-size="5.62" textLength="28.62" lengthAdjust="spacingAndGlyphs">Rescisão no</text>
<text x="638.75" y="405.65" text-anchor="middle" fill="#3c3c3c" stroke="#3c3c3c" stroke-width="0.1" font-size="5.62" textLength="15.22" lengthAdjust="spacingAndGlyphs">SIPAC</text>
<g transform="translate(619.0,384.9)"><path d="M0.4 6.9C0.4 5.1 1.6 4.3 4 4.3S7.6 5.1 7.6 6.9Z" fill="#e2ebf7" stroke="#4b8fbf" stroke-width="0.75"/><circle cx="4" cy="2.6" r="1.75" fill="#f2f6fc" stroke="#5d9bc7" stroke-width="0.6"/><path d="M2.2 2.2C2.2 0.8 3 0.3 4 0.3S5.8 0.8 5.8 2.2Z" fill="#2474ad"/><path d="M3.4 4.5L4 6.2L4.6 4.5" fill="#4a7fa6"/></g>
<rect x="616.2" y="102.5" width="45.39999999999998" height="30.0" rx="4" fill="#ecf0fd" stroke="#2f80b3" stroke-width="1.4"/>
<text x="638.9000000000001" y="116.15" text-anchor="middle" fill="#3c3c3c" stroke="#3c3c3c" stroke-width="0.1" font-size="5.62" textLength="34.68" lengthAdjust="spacingAndGlyphs">16. Dar ciência</text>
<text x="638.9000000000001" y="122.65" text-anchor="middle" fill="#3c3c3c" stroke="#3c3c3c" stroke-width="0.1" font-size="5.62" textLength="26.59" lengthAdjust="spacingAndGlyphs">da rescisão</text>
<path d="M587 105H601.8L607.8 111V130H587Z" fill="#efefef" stroke="#8c8c8c" stroke-width="0.9"/>
<path d="M601.8 105V111H607.8" fill="none" stroke="#8c8c8c" stroke-width="0.8"/>
<text x="597.5" y="137.8" text-anchor="middle" fill="#1e1e1e" stroke="#1e1e1e" stroke-width="0.1" font-size="5.62" textLength="23.42" lengthAdjust="spacingAndGlyphs">Despacho</text>
<rect x="672.2" y="382" width="45.39999999999998" height="30" rx="4" fill="#ecf0fd" stroke="#2f80b3" stroke-width="1.4"/>
<text x="694.9000000000001" y="395.65" text-anchor="middle" fill="#3c3c3c" stroke="#3c3c3c" stroke-width="0.1" font-size="5.62" textLength="27.75" lengthAdjust="spacingAndGlyphs">17. Arquivar</text>
<text x="694.9000000000001" y="402.15" text-anchor="middle" fill="#3c3c3c" stroke="#3c3c3c" stroke-width="0.1" font-size="5.62" textLength="21.10" lengthAdjust="spacingAndGlyphs">processo</text>
<g transform="translate(675.2,384.9)"><path d="M0.4 6.9C0.4 5.1 1.6 4.3 4 4.3S7.6 5.1 7.6 6.9Z" fill="#e2ebf7" stroke="#4b8fbf" stroke-width="0.75"/><circle cx="4" cy="2.6" r="1.75" fill="#f2f6fc" stroke="#5d9bc7" stroke-width="0.6"/><path d="M2.2 2.2C2.2 0.8 3 0.3 4 0.3S5.8 0.8 5.8 2.2Z" fill="#2474ad"/><path d="M3.4 4.5L4 6.2L4.6 4.5" fill="#4a7fa6"/></g>
<circle cx="738.6" cy="397.1" r="6.7" fill="#fde8e8" stroke="#b31d22" stroke-width="1.8"/>
<circle cx="738.6" cy="397.1" r="4.8" fill="#a20000"/>
<text x="738.5" y="412" text-anchor="middle" fill="#1e1e1e" stroke="#1e1e1e" stroke-width="0.1" font-size="5.62" textLength="8.66" lengthAdjust="spacingAndGlyphs">Fim</text>
<g>
<text x="681" y="518.6" font-size="4.1" fill="#b4b4b4" textLength="21" lengthAdjust="spacingAndGlyphs">Powered by</text>
<path d="M688 521.8L694.3 525.4V533.2L688 536.8L681.7 533.2V525.4Z" fill="none" stroke="#f7cfa6" stroke-width="1.3" stroke-linejoin="round"/>
<path d="M688 522V529.5L682.3 525.8" fill="none" stroke="#f7cfa6" stroke-width="1.1" stroke-linejoin="round"/>
<text x="698.3" y="526.2" font-size="4.3" fill="#c0c0c0" textLength="12.8" lengthAdjust="spacingAndGlyphs">bizagi</text>
<text x="698" y="535.6" font-size="10.8" fill="#f8cda3" stroke="#f8cda3" stroke-width="0.35" textLength="43" lengthAdjust="spacingAndGlyphs">Modeler</text>
</g></svg>
</body></html>
